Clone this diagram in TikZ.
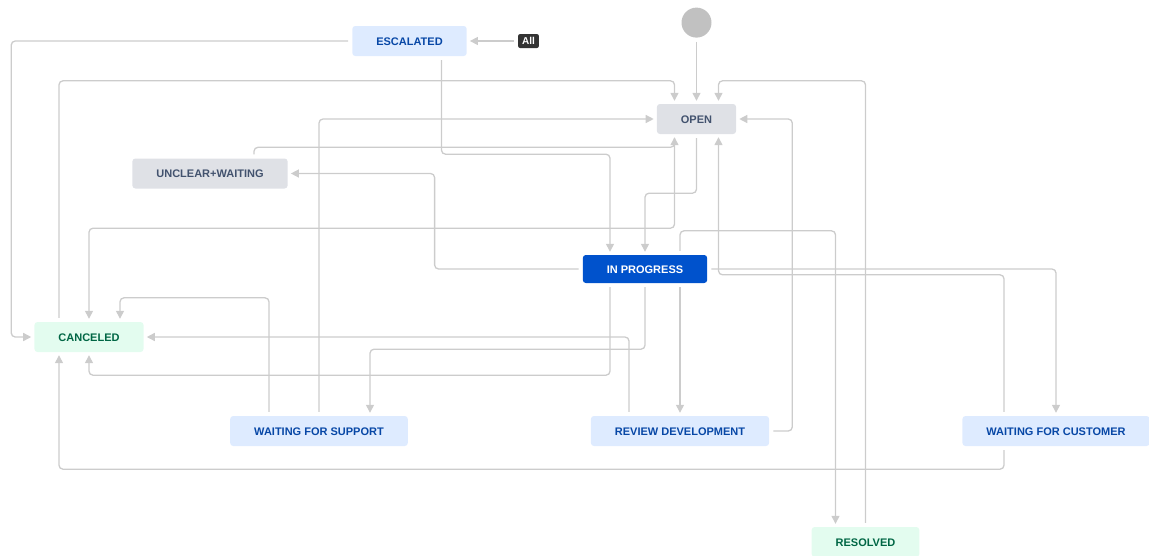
\documentclass[tikz,border=0pt]{standalone}
\usepackage{fontspec}
\setmainfont{Liberation Sans}
\usepackage{tikz}
\usetikzlibrary{arrows.meta, positioning}

\definecolor{jiraBlue}{HTML}{0747A6}
\definecolor{jiraBlueBg}{HTML}{DEEBFF}
\definecolor{jiraGray}{HTML}{42526E}
\definecolor{jiraGrayBg}{HTML}{DFE1E6}
\definecolor{jiraGreen}{HTML}{006644}
\definecolor{jiraGreenBg}{HTML}{E3FCEF}
\definecolor{jiraProg}{HTML}{0052CC}
\definecolor{lineGray}{HTML}{CCCCCC}
\definecolor{dotGray}{HTML}{C1C1C1}
\definecolor{badgeDark}{HTML}{333333}

\begin{document}
\begin{tikzpicture}[x=1pt, y=-1pt, font=\fontsize{11}{13}\selectfont\bfseries]
    % 書式
    \tikzstyle{state} = [rectangle, rounded corners=3pt, inner xsep=24pt, inner ysep=0pt, minimum height=30pt, text height=8pt, text depth=0pt]
    \tikzstyle{bluebox} = [state, fill=jiraBlueBg, text=jiraBlue]
    \tikzstyle{graybox} = [state, fill=jiraGrayBg, text=jiraGray]
    \tikzstyle{greenbox} = [state, fill=jiraGreenBg, text=jiraGreen]
    \tikzstyle{progbox} = [state, fill=jiraProg, text=white, minimum height=28pt]
    \tikzstyle{badge} = [rectangle, rounded corners=2pt, fill=badgeDark, text=white, inner xsep=4pt, inner ysep=0pt, minimum height=14pt, text height=7pt, text depth=0pt, font=\fontsize{10}{12}\selectfont\bfseries]
    \tikzstyle{startdot} = [circle, fill=dotGray, minimum size=30pt, inner sep=0pt]
    \tikzstyle{line} = [draw=lineGray, line width=1.3pt, rounded corners=4pt, shorten <=4pt, shorten >=3pt, -{Triangle[length=8pt, width=8pt, fill=lineGray]}]

    \useasboundingbox (0,0) rectangle (1149,555);

    % 状態
    \node [bluebox] (esc) at (409.5,41) {ESCALATED};
    \node [badge, right=51pt of esc] (all) {All};
    \node [graybox] (open) at (696.5,119) {OPEN};
    \node [startdot, above=66pt of open] (start) {};
    \node [graybox] (unclear) at (210,173.5) {UNCLEAR+WAITING};
    \node [progbox] (inprog) at (645,269) {IN PROGRESS};
    \node [greenbox] (canceled) at (89,337) {CANCELED};
    \node [bluebox] (wfs) at (319,431) {WAITING FOR SUPPORT};
    \node [bluebox] (review) at (680,431) {REVIEW DEVELOPMENT};
    \node [bluebox] (wfc) at (1056,431) {WAITING FOR CUSTOMER};
    \node [greenbox] (resolved) at (865.5,542) {RESOLVED};

    % 遷移
    \path [line] (all) -- (esc);
    \path [line] (esc.west) -| ([xshift=-23pt]canceled.west) -- (canceled.west);
    \path [line] ([xshift=32pt]esc.south) -- ++(0,98) -| ([xshift=-35pt]inprog.north);
    \path [line] (start) -- (open);
    \path [line] ([xshift=-30pt]canceled.north) -- ++(0,-241) -| ([xshift=-22pt]open.north);
    \path [line] (resolved.north) -- ++(0,-446) -| ([xshift=22pt]open.north);
    \path [line] (wfs.north) |- (open.west);
    \path [line] (review.east) -- ++(23,0) |- (open.east);
    \path [line] ([xshift=44pt]unclear.north) -- ++(0,-11) -| ([xshift=-22pt]open.south);
    \path [line] ([xshift=-52pt]wfc.north) -- ++(0,-141) -| ([xshift=22pt]open.south);
    \path [line] (open.south) -- ++(0,59) -| (inprog.north);
    \path [line] ([xshift=-22pt]open.south) -- ++(0,94) -| (canceled.north);
    \path [line] (inprog.west) -- ++(-148,0) |- (unclear.east);
    \path [line] ([xshift=35pt]inprog.north) -- ++(0,-24) -| ([xshift=-30pt]resolved.north);
    \path [line] (inprog.east) -| (wfc.north);
    \path [line] ([xshift=35pt]inprog.south) -- (review.north);
    \path [line] (inprog.south) -- ++(0,66) -| ([xshift=51pt]wfs.north);
    \path [line] ([xshift=-35pt]inprog.south) -- ++(0,92) -| (canceled.south);
    \path [line] ([xshift=-51pt]review.north) |- (canceled.east);
    \path [line] ([xshift=-50pt]wfs.north) -- ++(0,-118) -| ([xshift=31pt]canceled.north);
    \path [line] ([xshift=-52pt]wfc.south) -- ++(0,23) -| ([xshift=-30pt]canceled.south);
\end{tikzpicture}
\end{document}
